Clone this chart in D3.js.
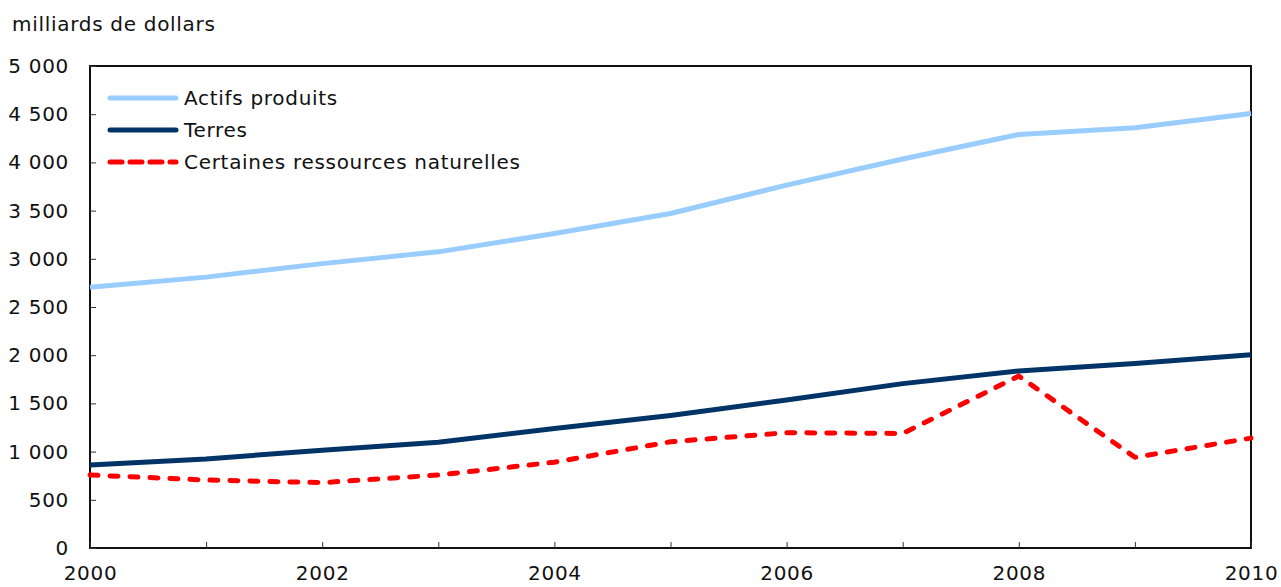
<!DOCTYPE html>
<html>
<head>
<meta charset="utf-8">
<script src="https://cdn.jsdelivr.net/npm/d3@7"></script>
<style>
  html, body { margin: 0; padding: 0; background: #fff; }
  svg { display: block; font-family: "DejaVu Sans", Verdana, sans-serif; }
  text { letter-spacing: 0.7px; }
</style>
</head>
<body>
<svg id="chart" width="1281" height="587"></svg>
<script>
// Valeurs annuelles, en milliards de dollars
const years = [2000, 2001, 2002, 2003, 2004, 2005, 2006, 2007, 2008, 2009, 2010];
const actifsProduits = [2705, 2810, 2950, 3072, 3262, 3470, 3765, 4035, 4290, 4360, 4508];
const terres = [862, 923, 1015, 1096, 1240, 1375, 1535, 1705, 1836, 1915, 2005];
const ressources = [757, 705, 678, 757, 890, 1102, 1196, 1188, 1784, 941, 1140];

const yTicks = [0, 500, 1000, 1500, 2000, 2500, 3000, 3500, 4000, 4500, 5000];
const xTickLabels = [2000, 2002, 2004, 2006, 2008, 2010];
const unitLabel = "milliards de dollars";

const seriesNames = ["Actifs produits", "Terres", "Certaines ressources naturelles"];
const seriesColors = ["#99ccff", "#003366", "#ff0000"];

const svg = d3.select("#chart");
const margin = { left: 90, right: 30, top: 66, bottom: 39 };
const W = 1281, H = 587;

const x = d3.scaleLinear().domain([2000, 2010]).range([margin.left, W - margin.right]);
const y = d3.scaleLinear().domain([0, 5000]).range([H - margin.bottom, margin.top]);

const fmt = v => d3.format(",")(v).replace(/,/g, " ");

// Cadre du graphique
svg.append("rect")
  .attr("x", x(2000)).attr("y", y(5000))
  .attr("width", x(2010) - x(2000)).attr("height", y(0) - y(5000))
  .attr("fill", "none").attr("stroke", "#111").attr("stroke-width", 2);

// Axe vertical (graduations vers l'intérieur)
const yAxis = svg.append("g")
  .attr("transform", `translate(${x(2000)},0)`)
  .call(d3.axisLeft(y).tickValues(yTicks).tickSizeInner(-6).tickSizeOuter(0).tickPadding(21).tickFormat(fmt));
yAxis.select(".domain").remove();
yAxis.selectAll(".tick line").attr("stroke", "#333").attr("stroke-width", 1);
yAxis.selectAll(".tick text").attr("font-size", 20).attr("fill", "#111")
  .attr("font-family", "DejaVu Sans, Verdana, sans-serif");

// Axe horizontal
const xAxis = svg.append("g")
  .attr("transform", `translate(0,${y(0)})`)
  .call(d3.axisBottom(x).tickValues(years).tickSizeInner(-6).tickSizeOuter(0).tickPadding(18)
    .tickFormat(d => xTickLabels.includes(d) ? String(d) : ""));
xAxis.select(".domain").remove();
xAxis.selectAll(".tick line").attr("stroke", "#333").attr("stroke-width", 1);
xAxis.selectAll(".tick text").attr("font-size", 20).attr("fill", "#111")
  .attr("font-family", "DejaVu Sans, Verdana, sans-serif");

// Unité
svg.append("text")
  .attr("x", 12).attr("y", 31)
  .attr("font-size", 20).attr("fill", "#111")
  .text(unitLabel);

// Séries
const line = d3.line().x((d, i) => x(years[i])).y(d => y(d));
const seriesData = [actifsProduits, terres, ressources];

seriesData.forEach((vals, k) => {
  const p = svg.append("path")
    .datum(vals)
    .attr("d", line)
    .attr("fill", "none")
    .attr("stroke", seriesColors[k])
    .attr("stroke-width", 5)
    .attr("stroke-linejoin", "round");
  if (k === 2) {
    p.attr("stroke-dasharray", "8,12").attr("stroke-linecap", "round");
  }
});

// Légende
const legend = svg.append("g");
seriesNames.forEach((name, k) => {
  const ly = 98 + k * 32;
  const l = legend.append("line")
    .attr("x1", 110).attr("x2", 176)
    .attr("y1", ly).attr("y2", ly)
    .attr("stroke", seriesColors[k])
    .attr("stroke-width", 5)
    .attr("stroke-linecap", "round");
  if (k === 2) l.attr("stroke-dasharray", "12,8");
  legend.append("text")
    .attr("x", 184).attr("y", ly)
    .attr("dy", "0.35em")
    .attr("font-size", 20).attr("fill", "#111")
    .text(name);
});
</script>
</body>
</html>
